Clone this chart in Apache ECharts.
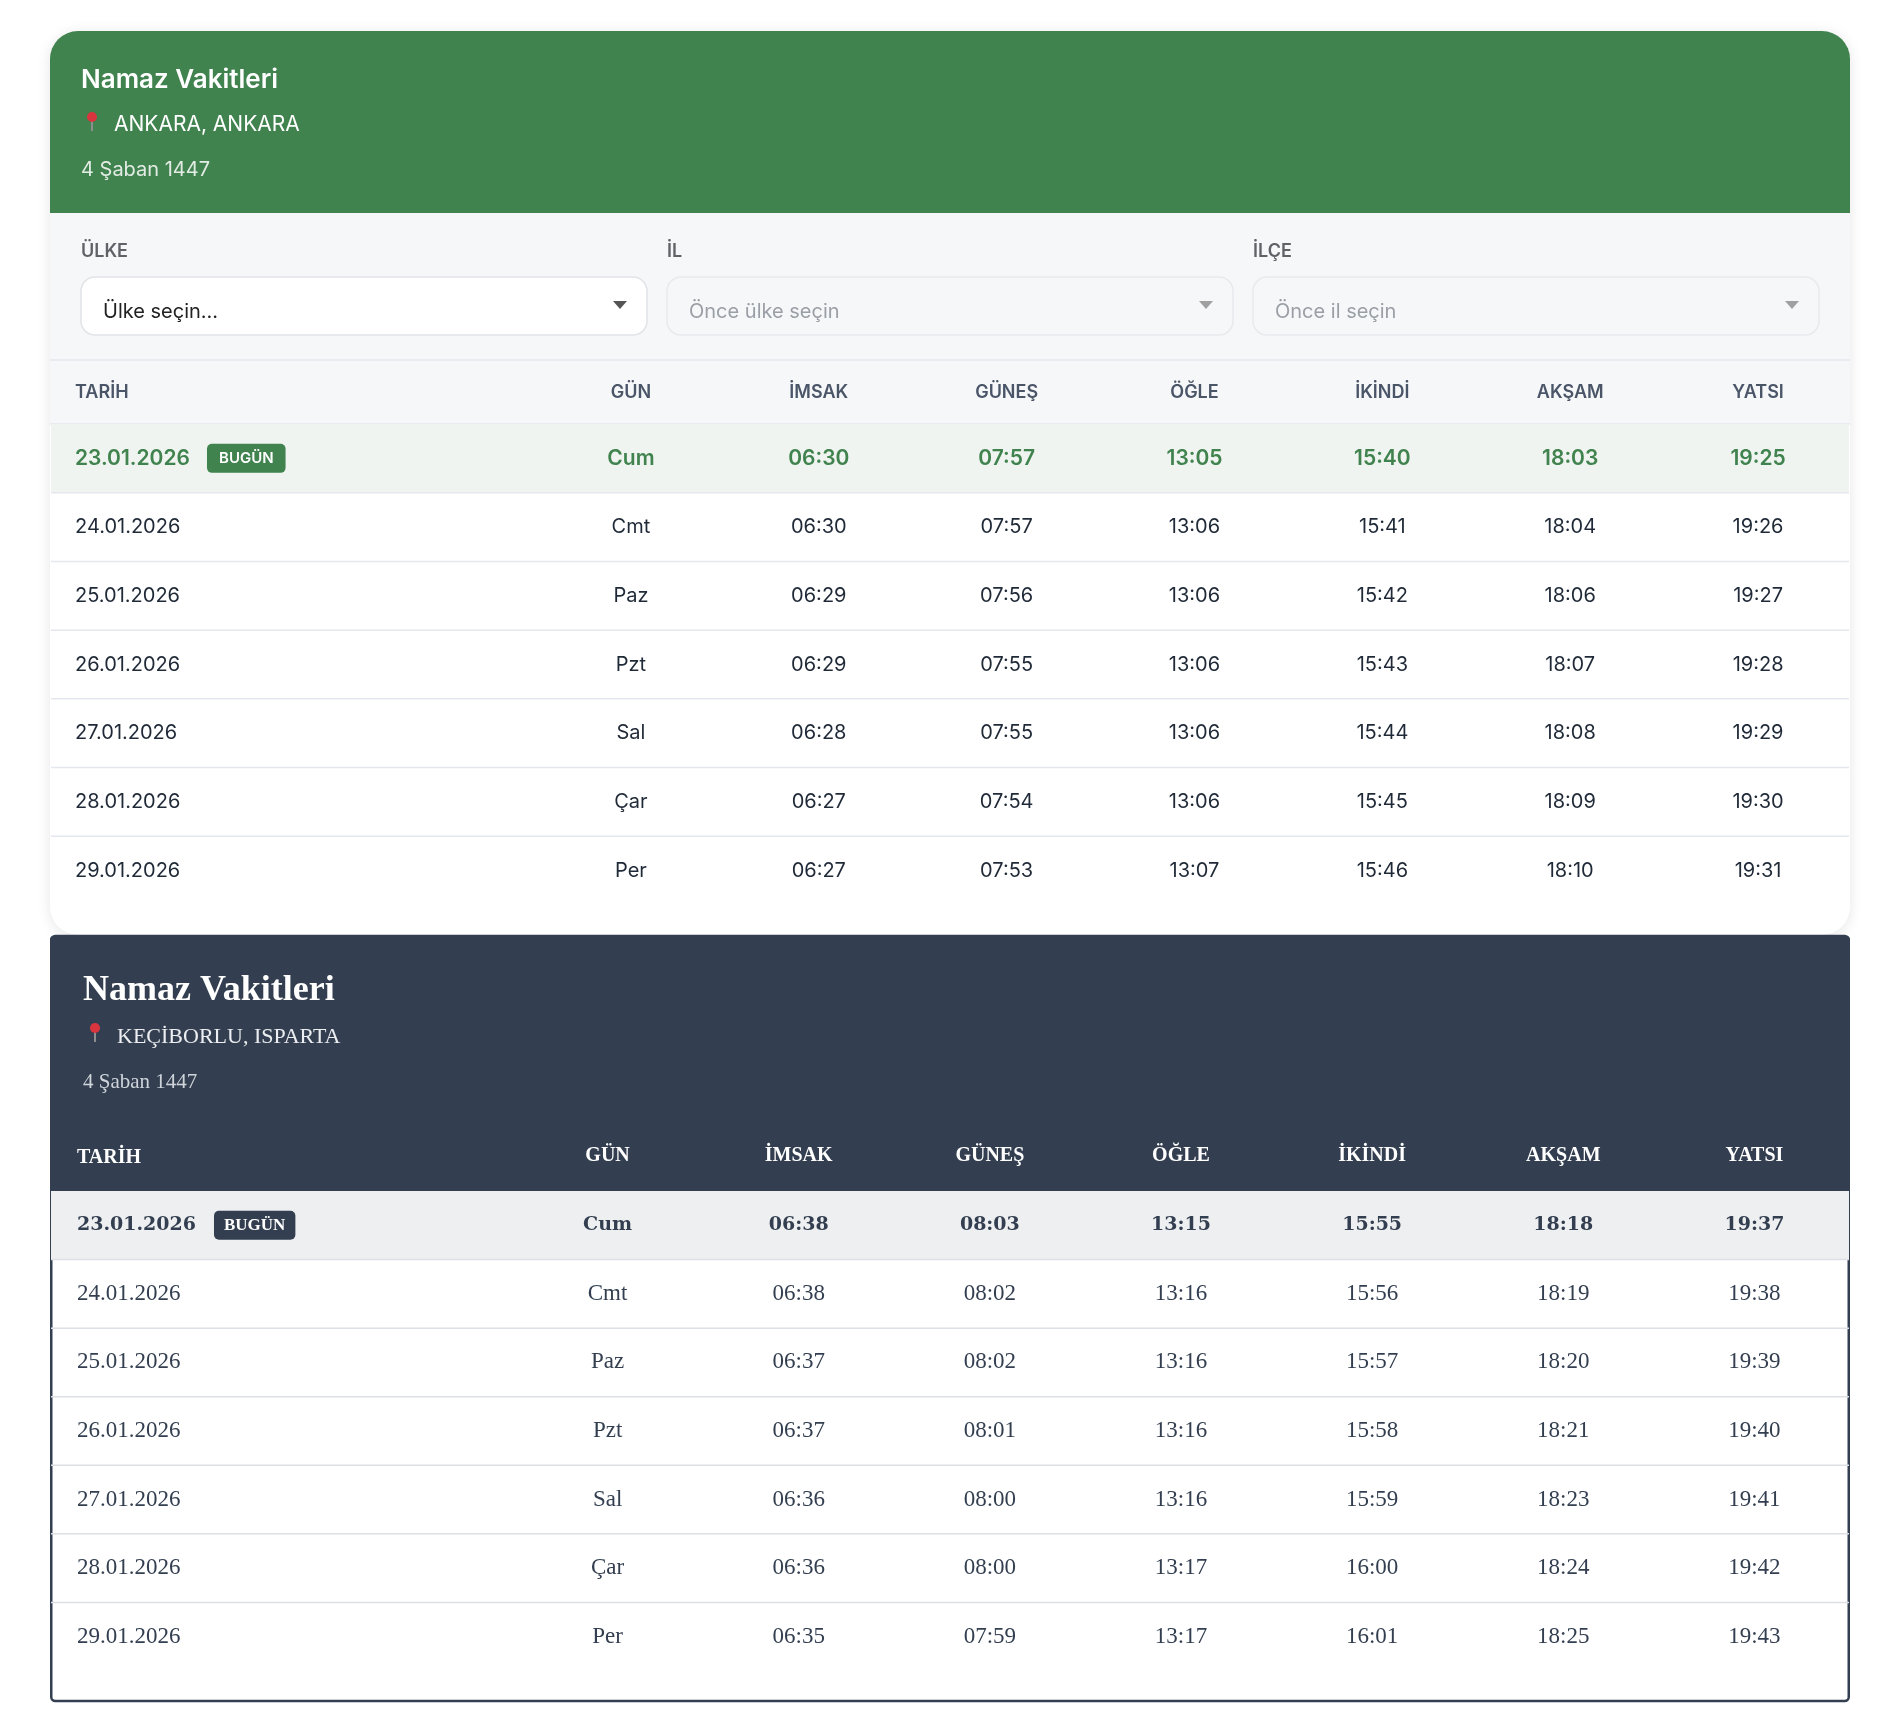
<!DOCTYPE html>
<html lang="tr">
<head>
<meta charset="utf-8">
<title>Namaz Vakitleri</title>
<script src="https://cdn.jsdelivr.net/npm/echarts@6/dist/echarts.min.js"></script>
<style>
  html, body { margin: 0; padding: 0; background: #fff; }
  #chart { width: 1898px; height: 1728px; }
</style>
</head>
<body>
<div id="chart"></div>
<script>
// Veriler: iki şehir için haftalık namaz vakitleri
const dates   = ['23.01.2026', '24.01.2026', '25.01.2026', '26.01.2026', '27.01.2026', '28.01.2026', '29.01.2026'];
const days    = ['Cum', 'Cmt', 'Paz', 'Pzt', 'Sal', 'Çar', 'Per'];
const columns = ['GÜN', 'İMSAK', 'GÜNEŞ', 'ÖĞLE', 'İKİNDİ', 'AKŞAM', 'YATSI'];

const ankaraImsak  = ['06:30', '06:30', '06:29', '06:29', '06:28', '06:27', '06:27'];
const ankaraGunes  = ['07:57', '07:57', '07:56', '07:55', '07:55', '07:54', '07:53'];
const ankaraOgle   = ['13:05', '13:06', '13:06', '13:06', '13:06', '13:06', '13:07'];
const ankaraIkindi = ['15:40', '15:41', '15:42', '15:43', '15:44', '15:45', '15:46'];
const ankaraAksam  = ['18:03', '18:04', '18:06', '18:07', '18:08', '18:09', '18:10'];
const ankaraYatsi  = ['19:25', '19:26', '19:27', '19:28', '19:29', '19:30', '19:31'];

const kecImsak  = ['06:38', '06:38', '06:37', '06:37', '06:36', '06:36', '06:35'];
const kecGunes  = ['08:03', '08:02', '08:02', '08:01', '08:00', '08:00', '07:59'];
const kecOgle   = ['13:15', '13:16', '13:16', '13:16', '13:16', '13:17', '13:17'];
const kecIkindi = ['15:55', '15:56', '15:57', '15:58', '15:59', '16:00', '16:01'];
const kecAksam  = ['18:18', '18:19', '18:20', '18:21', '18:23', '18:24', '18:25'];
const kecYatsi  = ['19:37', '19:38', '19:39', '19:40', '19:41', '19:42', '19:43'];

const GREEN = '#41834f';
const DARK  = '#333f50';
const SANS  = 'Inter, "Noto Sans", sans-serif';
const SERIF = '"Liberation Serif", "DejaVu Serif", serif';
const SERIF_WIDE = '"DejaVu Serif", "Liberation Serif", serif';
const CARD_L = 50, CARD_R = 1850;

// tablo hücrelerini [sütun, satır] olarak aç
function cellData(cols) {
  const data = [], cells = [];
  cols.forEach((arr, j) => arr.forEach((t, i) => { data.push([j, i]); cells.push(t); }));
  return { data, cells };
}

function cellSeries(idx, cols, rowStyle, todayStyle) {
  const { data, cells } = cellData(cols);
  return {
    type: 'custom',
    xAxisIndex: idx, yAxisIndex: idx,
    z: 6, silent: true,
    data,
    renderItem: (params, api) => {
      const p = api.coord([api.value(0), api.value(1)]);
      const st = api.value(1) === 0 ? todayStyle : rowStyle;
      return {
        type: 'text', x: p[0], y: p[1],
        style: Object.assign({ text: cells[params.dataIndex], align: 'center', verticalAlign: 'middle' }, st),
      };
    },
  };
}

// satır zemini (bugün vurgusu) ve ayırıcı çizgiler
function rowSeries(idx, todayFill, lineColor) {
  return {
    type: 'custom',
    xAxisIndex: idx, yAxisIndex: idx,
    z: 5, silent: true,
    data: dates.map((d, i) => [0, i]),
    renderItem: (params, api) => {
      const row = api.value(1);
      const c = api.coord([0, row]);
      const h = api.size([0, 1])[1];
      const children = [];
      if (row === 0) {
        children.push({ type: 'rect', shape: { x: CARD_L + 1, y: c[1] - h / 2, width: CARD_R - CARD_L - 2, height: h }, style: { fill: todayFill } });
      }
      if (row < dates.length - 1) {
        children.push({ type: 'line', shape: { x1: CARD_L + 1, y1: c[1] + h / 2, x2: CARD_R - 1, y2: c[1] + h / 2 }, style: { stroke: lineColor, lineWidth: 1.5 } });
      }
      return { type: 'group', children };
    },
  };
}

function pin(x, y) {
  return {
    type: 'group', children: [
      { type: 'line', shape: { x1: x, y1: y, x2: x, y2: y + 14 }, style: { stroke: '#8d8d8d', lineWidth: 2 } },
      { type: 'circle', shape: { cx: x, cy: y, r: 5 }, style: { fill: '#d8353f' } },
    ],
  };
}

function selectBox(x1, x2, label, text, active) {
  const ax = x2 - 27, ay = 305;
  return {
    type: 'group', children: [
      { type: 'text', x: x1, y: 252, style: { text: label, fill: '#5f6368', font: `600 18px ${SANS}`, verticalAlign: 'middle' } },
      { type: 'rect', shape: { x: x1, y: 277, width: x2 - x1, height: 58, r: 14 },
        style: { fill: active ? '#ffffff' : '#f6f7f9', stroke: active ? '#e1e4e8' : '#e8eaee', lineWidth: 1.5 } },
      { type: 'text', x: x1 + 22, y: 312, style: { text, fill: active ? '#222222' : '#9a9fa6', font: `400 20px ${SANS}`, verticalAlign: 'middle' } },
      { type: 'polygon', shape: { points: [[ax - 7, ay - 4], [ax + 7, ay - 4], [ax, ay + 4]] }, style: { fill: active ? '#555555' : '#a0a0a0' } },
    ],
  };
}

const graphic = [
  // kart 1
  { type: 'rect', shape: { x: CARD_L, y: 31, width: 1800, height: 904, r: 28 },
    style: { fill: '#ffffff', shadowBlur: 14, shadowColor: 'rgba(0,0,0,0.10)', shadowOffsetY: 2 } },
  { type: 'rect', shape: { x: CARD_L, y: 31, width: 1800, height: 182, r: [28, 28, 0, 0] }, style: { fill: GREEN } },
  { type: 'rect', shape: { x: CARD_L, y: 213, width: 1800, height: 211 }, style: { fill: '#f6f7f9' } },
  { type: 'line', shape: { x1: CARD_L, y1: 360, x2: CARD_R, y2: 360 }, style: { stroke: '#e4e7ec', lineWidth: 1.5 } },
  { type: 'line', shape: { x1: CARD_L, y1: 424, x2: CARD_R, y2: 424 }, style: { stroke: '#e4e7ec', lineWidth: 1.5 } },
  { type: 'text', x: 81, y: 80, style: { text: 'Namaz Vakitleri', fill: '#ffffff', font: `600 26px ${SANS}`, verticalAlign: 'middle' } },
  pin(92, 117),
  { type: 'text', x: 114, y: 125, style: { text: 'ANKARA, ANKARA', fill: '#ffffff', font: `400 21px ${SANS}`, verticalAlign: 'middle' } },
  { type: 'text', x: 81, y: 170, style: { text: '4 Şaban 1447', fill: 'rgba(255,255,255,0.85)', font: `400 20px ${SANS}`, verticalAlign: 'middle' } },
  selectBox(81, 647, 'ÜLKE', 'Ülke seçin...', true),
  selectBox(667, 1233, 'İL', 'Önce ülke seçin', false),
  selectBox(1253, 1819, 'İLÇE', 'Önce il seçin', false),
  { type: 'text', x: 75, y: 393, style: { text: 'TARİH', fill: '#4a5568', font: `600 18px ${SANS}`, verticalAlign: 'middle' } },

  // kart 2
  { type: 'rect', shape: { x: CARD_L + 1.25, y: 936, width: 1797.5, height: 765, r: 4 },
    style: { fill: '#ffffff', stroke: DARK, lineWidth: 2.5 } },
  { type: 'rect', shape: { x: CARD_L, y: 936, width: 1800, height: 255, r: [4, 4, 0, 0] }, style: { fill: DARK } },
  { type: 'text', x: 83, y: 991, style: { text: 'Namaz Vakitleri', fill: '#ffffff', font: `700 36px ${SERIF}`, verticalAlign: 'middle' } },
  pin(95, 1028),
  { type: 'text', x: 117, y: 1037, style: { text: 'KEÇİBORLU, ISPARTA', fill: '#eceef1', font: `400 22px ${SERIF}`, verticalAlign: 'middle' } },
  { type: 'text', x: 83, y: 1082, style: { text: '4 Şaban 1447', fill: '#cfd4db', font: `400 21px ${SERIF}`, verticalAlign: 'middle' } },
  { type: 'text', x: 77, y: 1158, style: { text: 'TARİH', fill: '#ffffff', font: `700 20px ${SERIF}`, verticalAlign: 'middle' } },
];

const chart = echarts.init(document.getElementById('chart'), null, { renderer: 'canvas' });

chart.setOption({
  backgroundColor: '#ffffff',
  animation: false,
  graphic,
  grid: [
    { left: 537, right: 1898 - 1852, top: 424, height: 481, outerBoundsMode: 'none' },
    { left: 512, right: 48, top: 1191, height: 480, outerBoundsMode: 'none' },
  ],
  xAxis: [
    {
      type: 'category', gridIndex: 0, position: 'top', data: columns, z: 10,
      axisLine: { show: false }, axisTick: { show: false }, splitLine: { show: false },
      axisLabel: { interval: 0, margin: 22, color: '#4a5568', fontFamily: SANS, fontSize: 18, fontWeight: 600 },
    },
    {
      type: 'category', gridIndex: 1, position: 'top', data: columns, z: 10,
      axisLine: { show: false }, axisTick: { show: false }, splitLine: { show: false },
      axisLabel: { interval: 0, margin: 25, color: '#ffffff', fontFamily: SERIF, fontSize: 20, fontWeight: 700 },
    },
  ],
  yAxis: [
    {
      type: 'category', gridIndex: 0, inverse: true, data: dates, z: 10,
      axisLine: { show: false }, axisTick: { show: false }, splitLine: { show: false },
      axisLabel: {
        interval: 0, align: 'left', margin: 537 - 75,
        color: '#1f2937', fontFamily: SANS, fontSize: 20,
        formatter: (v, i) => i === 0 ? `{today|${v}}{gap|}{badge|BUGÜN}` : v,
        rich: {
          today: { color: GREEN, fontFamily: SANS, fontSize: 21, fontWeight: 600 },
          gap: { width: 17 },
          badge: { color: '#ffffff', backgroundColor: GREEN, fontFamily: SANS, fontSize: 15, fontWeight: 600,
                   padding: [7, 12], borderRadius: 5, lineHeight: 15 },
        },
      },
    },
    {
      type: 'category', gridIndex: 1, inverse: true, data: dates, z: 10,
      axisLine: { show: false }, axisTick: { show: false }, splitLine: { show: false },
      axisLabel: {
        interval: 0, align: 'left', margin: 512 - 77,
        color: DARK, fontFamily: SERIF, fontSize: 23,
        formatter: (v, i) => i === 0 ? `{today|${v}}{gap|}{badge|BUGÜN}` : v,
        rich: {
          today: { color: DARK, fontFamily: SERIF_WIDE, fontSize: 19, fontWeight: 700 },
          gap: { width: 18 },
          badge: { color: '#ffffff', backgroundColor: DARK, fontFamily: SERIF, fontSize: 17, fontWeight: 700,
                   padding: [6, 10], borderRadius: 5, lineHeight: 17 },
        },
      },
    },
  ],
  series: [
    rowSeries(0, '#eff4f0', '#e4e8ee'),
    cellSeries(0, [days, ankaraImsak, ankaraGunes, ankaraOgle, ankaraIkindi, ankaraAksam, ankaraYatsi],
      { fill: '#1f2937', fontFamily: SANS, fontSize: 20, fontWeight: 400 },
      { fill: GREEN, fontFamily: SANS, fontSize: 21, fontWeight: 600 }),
    rowSeries(1, '#eeeff1', '#dcdfe3'),
    cellSeries(1, [days, kecImsak, kecGunes, kecOgle, kecIkindi, kecAksam, kecYatsi],
      { fill: DARK, fontFamily: SERIF, fontSize: 23, fontWeight: 400 },
      { fill: DARK, fontFamily: SERIF_WIDE, fontSize: 19, fontWeight: 700 }),
  ],
});
</script>
</body>
</html>
